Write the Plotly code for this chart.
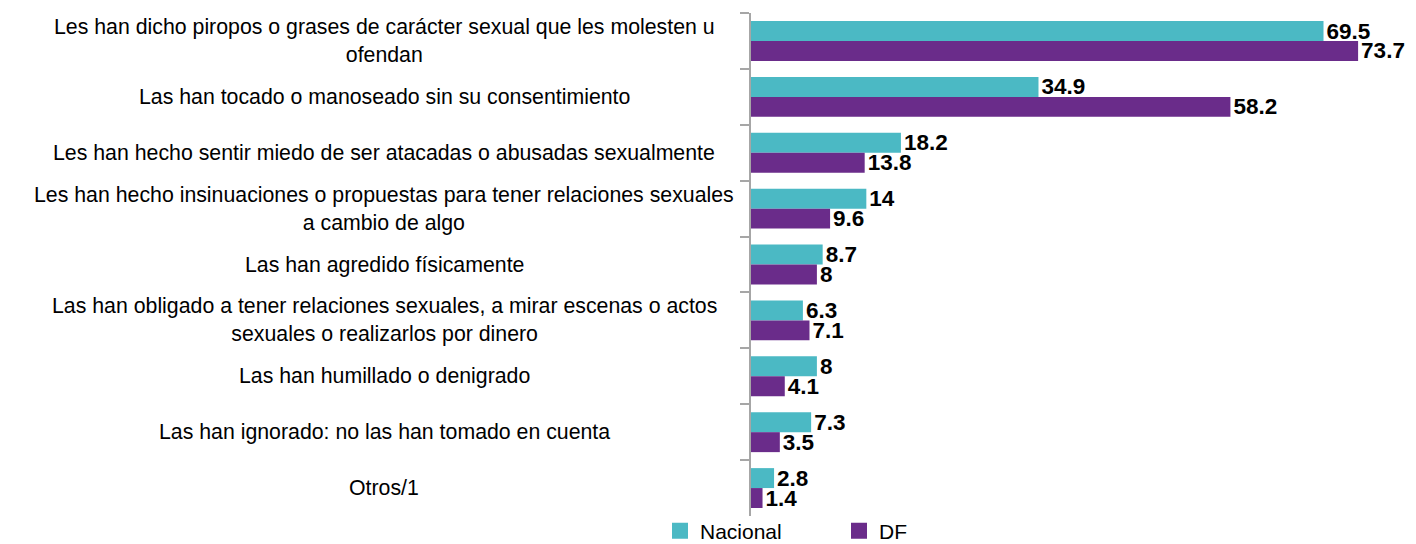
import plotly.graph_objects as go

categories = [
    "Les han dicho piropos o grases de carácter sexual que les molesten u<br>ofendan",
    "Las han tocado o manoseado sin su consentimiento",
    "Les han hecho sentir miedo de ser atacadas o abusadas sexualmente",
    "Les han hecho insinuaciones o propuestas para tener relaciones sexuales<br>a cambio de algo",
    "Las han agredido físicamente",
    "Las han obligado a tener relaciones sexuales, a mirar escenas o actos<br>sexuales o realizarlos por dinero",
    "Las han humillado o denigrado",
    "Las han ignorado: no las han tomado en cuenta",
    "Otros/1",
]
nacional = [69.5, 34.9, 18.2, 14, 8.7, 6.3, 8, 7.3, 2.8]
df = [73.7, 58.2, 13.8, 9.6, 8, 7.1, 4.1, 3.5, 1.4]
series_names = ["Nacional", "DF"]

TEAL = "#4BB9C4"
PURPLE = "#6A2C8A"
W, H = 1416, 544
FONT = "Liberation Sans, Arial"

fig = go.Figure()
for name, vals, col in [(series_names[0], nacional, TEAL), (series_names[1], df, PURPLE)]:
    fig.add_trace(go.Bar(
        y=categories, x=vals, orientation="h", name=name,
        marker=dict(color=col, line=dict(width=0)),
        text=vals, texttemplate="%{x}", textposition="outside",
        constraintext="none", cliponaxis=False,
        textfont=dict(family=FONT, size=22.5, color="black", weight="bold"),
        showlegend=False,
    ))
    fig.add_trace(go.Scatter(
        x=[None], y=[None], mode="markers", name=name,
        marker=dict(symbol="square", size=16, color=col),
        showlegend=True,
    ))

for cat in categories:
    fig.add_annotation(
        x=384 / W, xref="paper", y=cat, yref="y", text=cat,
        showarrow=False, xanchor="center", yanchor="middle", align="center",
        font=dict(family=FONT, size=21.3, color="black"),
    )

fig.update_layout(
    width=W, height=H,
    margin=dict(l=0, r=0, t=13, b=28, autoexpand=False),
    paper_bgcolor="white", plot_bgcolor="white",
    barmode="group", bargap=0.286, bargroupgap=0,
    xaxis=dict(domain=[751 / W, 1410 / W], range=[0, 80], showgrid=False,
               zeroline=False, showticklabels=False, showline=False),
    yaxis=dict(autorange="reversed", showline=True, linecolor="#A6A6A6", linewidth=2,
               ticks="outside", ticklen=9, tickcolor="#A6A6A6", tickwidth=2,
               tickson="boundaries", showticklabels=False, showgrid=False),
    legend=dict(orientation="h", x=660 / W, xanchor="left", y=-0.03, yanchor="middle",
                entrywidth=134, entrywidthmode="pixels",
                font=dict(family=FONT, size=21, color="black"),
                bgcolor="rgba(0,0,0,0)", itemclick=False),
    font=dict(family=FONT),
)

fig.write_html("out.html", config={"displayModeBar": False},
               post_script="document.body.style.margin='0';document.body.style.overflow='hidden';")
